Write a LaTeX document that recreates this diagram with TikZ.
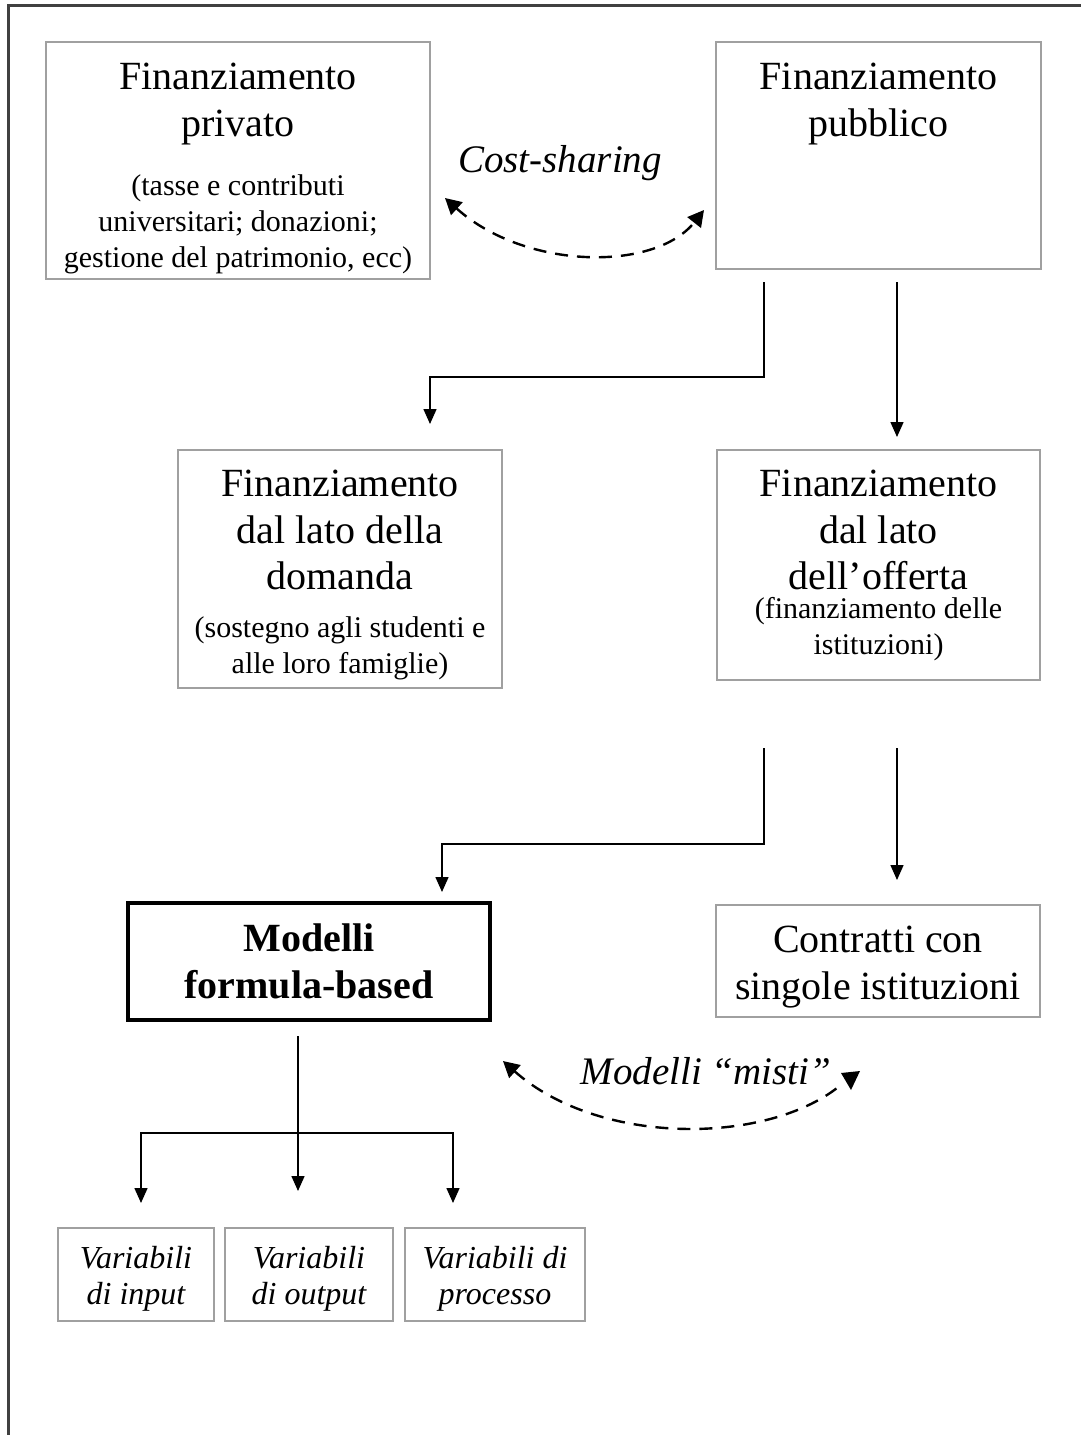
\documentclass[tikz,border=0pt]{standalone}
\usepackage{fontspec}
\setmainfont{Liberation Serif}
\usetikzlibrary{arrows.meta}
\definecolor{boxgray}{HTML}{A0A0A0}
\definecolor{framegray}{HTML}{404040}
\newcommand{\titlefont}{\fontsize{20}{23.25}\selectfont}
\newcommand{\labelfont}{\fontsize{19.5}{23}\selectfont}
\newcommand{\notefont}{\fontsize{15}{18}\selectfont}
\newcommand{\varfont}{\fontsize{16}{18}\selectfont}
\begin{document}
\begin{tikzpicture}[x=0.5pt,y=-0.5pt,
  box/.style={draw=boxgray,line width=1pt,inner sep=0pt,outer sep=0pt,fill=white},
  strongbox/.style={draw=black,line width=1.7pt,inner sep=0pt,outer sep=0pt},
  title/.style={inner sep=0pt,align=center,font=\titlefont,anchor=north},
  note/.style={inner sep=0pt,align=center,font=\notefont,anchor=north},
  vartext/.style={inner sep=0pt,align=center,font=\varfont\itshape},
  arr/.style={line width=0.75pt,-{Triangle[length=7.5pt,width=6.5pt]}},
  dashline/.style={line width=1.2pt,dash pattern=on 6.5pt off 4.5pt},
  dblarr/.style={dashline,
    {Triangle[length=8pt,width=8.5pt]}-{Triangle[length=8pt,width=8.5pt]}},
  frame/.style={draw=framegray,line width=1.5pt}]
\useasboundingbox (0,0) rectangle (1081,1435);
\fill[white] (0,0) rectangle (1081,1435);
% outer frame (left and top sides)
\draw[frame] (8,1435) -- (8,5) -- (1081,5);

% --- top row
\node[box,minimum width=192pt,minimum height=118.5pt] (priv) at (238,160.5) {};
\node[title] (privT) at (238,63) {Finanziamento\\privato};
\node[note] (privS) at (238,174) {(tasse e contributi\\universitari; donazioni;\\gestione del patrimonio, ecc)};

\node[box,minimum width=162.5pt,minimum height=113.5pt] (pub) at (878.5,155.5) {};
\node[title] (pubT) at (878.5,63) {Finanziamento\\pubblico};

\node[inner sep=0pt,anchor=base,font=\labelfont\itshape] (cost) at (560,172) {Cost-sharing};
\coordinate (cs1) at (445,198);
\coordinate (cs2) at (704,210);
\draw[dblarr] (cs1) .. controls (525,270) and (655,272) .. (cs2);

% --- middle row
\node[box,minimum width=162pt,minimum height=119pt] (dem) at (340,569) {};
\node[title] (demT) at (340,470) {Finanziamento\\dal lato della\\domanda};
\node[note] (demS) at (340,616) {(sostegno agli studenti e\\alle loro famiglie)};

\node[box,minimum width=161.5pt,minimum height=115pt] (sup) at (878.5,565) {};
\node[title] (supT) at (878.5,470) {Finanziamento\\dal lato\\dell’offerta};
\node[note] (supS) at (878.5,597) {(finanziamento delle\\istituzioni)};

% connectors from public funding
\coordinate (c1) at (764,377);
\coordinate (c1b) at (430,377);
\coordinate (c2) at (897,377);
\draw[arr,shorten <=6.5pt,shorten >=13pt] (pub.south -| c1) -- (c1) -- (c1b) -- (dem.north -| c1b);
\draw[arr,shorten <=6.5pt,shorten >=6.5pt] (pub.south -| c2) -- (sup.north -| c2);

% --- lower row
\node[strongbox,minimum width=181pt,minimum height=58.5pt,align=center,
  font=\titlefont\bfseries] (mod) at (309,961.5) {Modelli\\formula-based};
\node[box,minimum width=162pt,minimum height=56pt] (con) at (878,961) {};
\node[title] (conT) at (878,926) {Contratti con\\singole istituzioni};

\coordinate (c3) at (764,844);
\coordinate (c3b) at (442,844);
\coordinate (c4) at (897,844);
\draw[arr,shorten <=34pt,shorten >=5.5pt] (sup.south -| c3) -- (c3) -- (c3b) -- (mod.north -| c3b);
\draw[arr,shorten <=34pt,shorten >=12.5pt] (sup.south -| c4) -- (con.north -| c4);

\node[inner sep=0pt,anchor=base,font=\labelfont\itshape] (misti) at (706,1084) {Modelli “misti”};
\coordinate (ms1) at (503,1061);
\coordinate (ms2) at (851,1090);
\draw[dashline,{Triangle[length=8pt,width=8.5pt]}-] (ms1) .. controls (600,1147) and (770,1145) .. (842,1084);
% closing head of the mixed-model arrow, set upright
\fill (ms2) -- ++(-10,-17) -- ++(19,-2) -- cycle;

% --- variables
\node[box,minimum width=78pt,minimum height=46.5pt] (v1) at (136,1274.5) {};
\node[box,minimum width=84pt,minimum height=46.5pt] (v2) at (309,1274.5) {};
\node[box,minimum width=90pt,minimum height=46.5pt] (v3) at (495,1274.5) {};
\node[vartext] (v1T) at (136,1279) {Variabili\\di input};
\node[vartext] (v2T) at (309,1279) {Variabili\\di output};
\node[vartext] (v3T) at (495,1279) {Variabili di\\processo};

\coordinate (c5) at (298,1133);
\coordinate (c5l) at (141,1133);
\coordinate (c5r) at (453,1133);
\draw[arr,shorten <=8pt,shorten >=18.5pt] (mod.south -| c5) -- (v2.north -| c5);
\draw[arr,shorten >=12.5pt] (c5) -- (c5l) -- (v1.north -| c5l);
\draw[arr,shorten >=12.5pt] (c5) -- (c5r) -- (v3.north -| c5r);
\end{tikzpicture}
\end{document}
